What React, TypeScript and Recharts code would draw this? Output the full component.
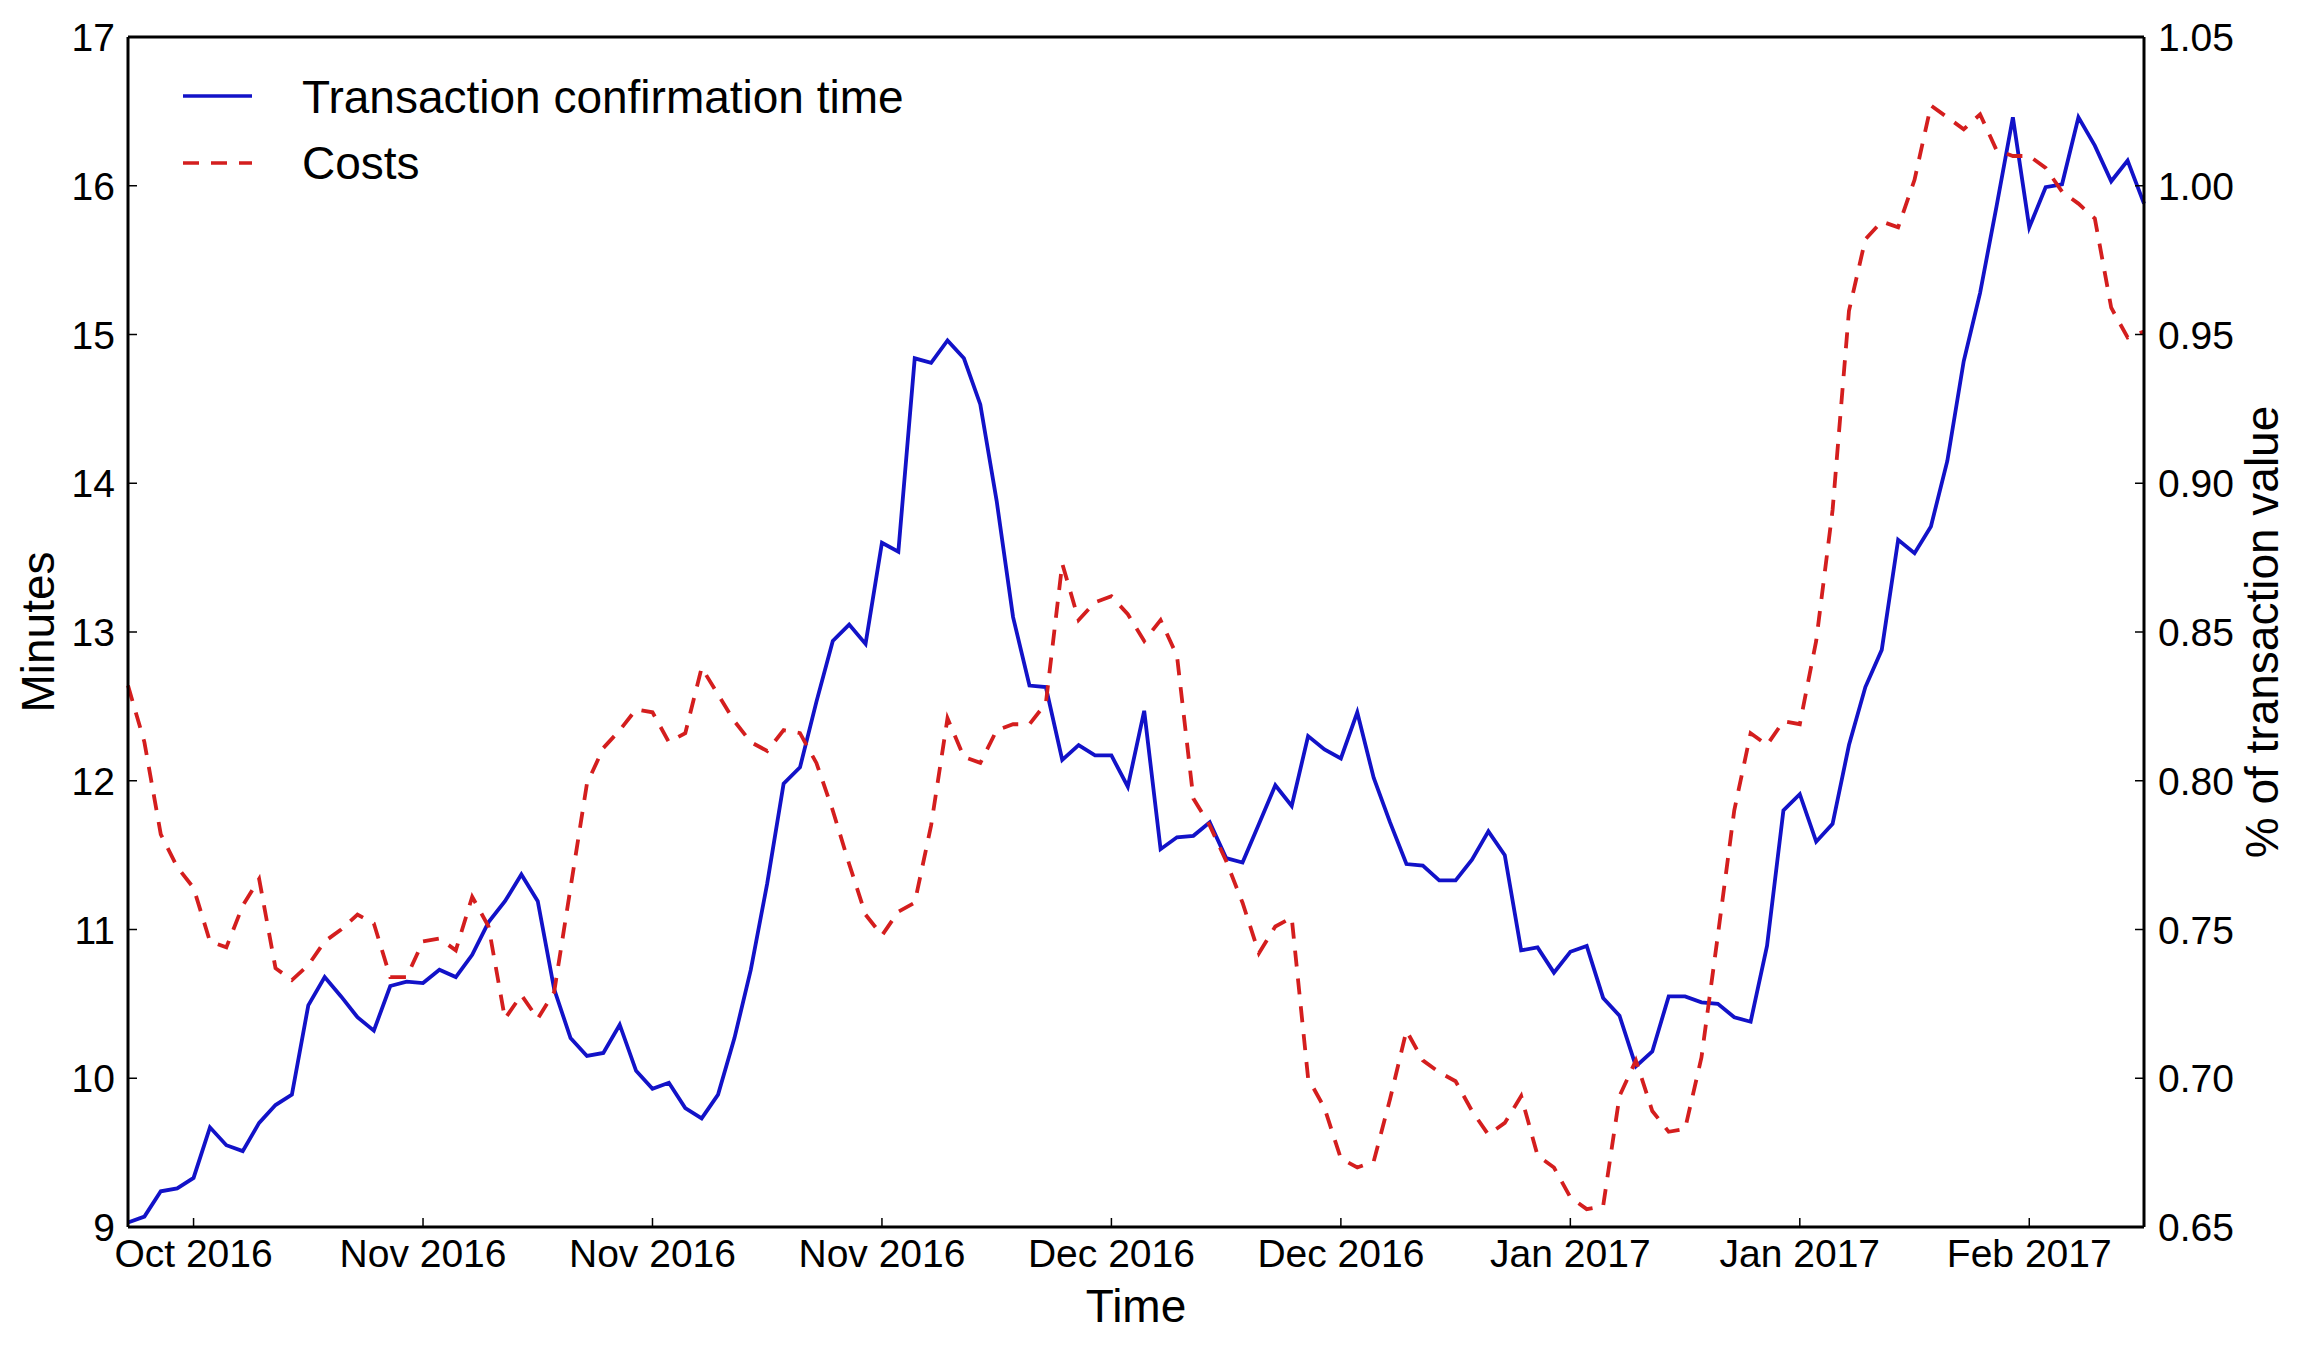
import React from 'react';
import { LineChart, Line, XAxis, YAxis } from 'recharts';

const minutes = [
  9.03, 9.07, 9.24, 9.26, 9.33, 9.67, 9.55, 9.51, 9.70, 9.82,
  9.89, 10.49, 10.68, 10.55, 10.41, 10.32, 10.62, 10.65, 10.64, 10.73,
  10.68, 10.83, 11.05, 11.19, 11.37, 11.19, 10.60, 10.27, 10.15, 10.17,
  10.36, 10.05, 9.93, 9.97, 9.80, 9.73, 9.89, 10.27, 10.73, 11.31,
  11.98, 12.09, 12.53, 12.94, 13.05, 12.92, 13.60, 13.54, 14.84, 14.81,
  14.96, 14.84, 14.53, 13.88, 13.10, 12.64, 12.63, 12.14, 12.24, 12.17,
  12.17, 11.96, 12.47, 11.54, 11.62, 11.63, 11.72, 11.48, 11.45, 11.71,
  11.97, 11.83, 12.30, 12.21, 12.15, 12.46, 12.02, 11.72, 11.44, 11.43,
  11.33, 11.33, 11.47, 11.66, 11.50, 10.86, 10.88, 10.71, 10.85, 10.89,
  10.54, 10.42, 10.08, 10.18, 10.55, 10.55, 10.51, 10.50, 10.41, 10.38,
  10.89, 11.80, 11.91, 11.59, 11.71, 12.24, 12.63, 12.88, 13.62, 13.53,
  13.71, 14.15, 14.82, 15.28, 15.86, 16.46, 15.72, 15.99, 16.01, 16.46,
  16.27, 16.03, 16.17, 15.88,
];

const costs = [
  0.832, 0.813, 0.782, 0.771, 0.764, 0.746, 0.744, 0.758, 0.767, 0.737,
  0.733, 0.738, 0.746, 0.750, 0.755, 0.752, 0.734, 0.734, 0.746, 0.747,
  0.743, 0.761, 0.751, 0.720, 0.728, 0.720, 0.729, 0.764, 0.799, 0.811,
  0.817, 0.824, 0.823, 0.813, 0.816, 0.838, 0.829, 0.820, 0.813, 0.810,
  0.817, 0.816, 0.806, 0.790, 0.772, 0.755, 0.748, 0.756, 0.759, 0.785,
  0.821, 0.808, 0.806, 0.817, 0.819, 0.819, 0.826, 0.873, 0.854, 0.860,
  0.862, 0.856, 0.847, 0.854, 0.842, 0.794, 0.785, 0.773, 0.759, 0.742,
  0.751, 0.754, 0.700, 0.690, 0.673, 0.670, 0.672, 0.693, 0.716, 0.706,
  0.702, 0.699, 0.689, 0.681, 0.685, 0.694, 0.674, 0.670, 0.660, 0.656,
  0.657, 0.694, 0.706, 0.689, 0.682, 0.683, 0.707, 0.748, 0.790, 0.816,
  0.812, 0.820, 0.819, 0.847, 0.891, 0.958, 0.982, 0.988, 0.986, 1.002,
  1.027, 1.023, 1.019, 1.024, 1.012, 1.010, 1.010, 1.006, 0.998, 0.994,
  0.989, 0.959, 0.949, 0.951,
];

const tickDays = [4, 18, 32, 46, 60, 74, 88, 102, 116];
const tickLabels = ['Oct 2016', 'Nov 2016', 'Nov 2016', 'Nov 2016', 'Dec 2016', 'Dec 2016', 'Jan 2017', 'Jan 2017', 'Feb 2017'];
const minuteTicks = [9, 10, 11, 12, 13, 14, 15, 16, 17];
const costTicks = [0.65, 0.7, 0.75, 0.8, 0.85, 0.9, 0.95, 1.0, 1.05];

const seriesNames = ['Transaction confirmation time', 'Costs'];

const data = minutes.map((m, i) => ({ day: i, t: m, c: costs[i] }));

const FONT = '"Liberation Sans", Arial, Helvetica, sans-serif';
const BLUE = '#1212c8';
const RED = '#d41e1e';
const TICK_FS = 39;
const LABEL_FS = 46;

const BottomTick = (props: any) => {
  const { x, y, payload } = props;
  const idx = tickDays.indexOf(payload.value);
  return (
    <g>
      <line x1={x} y1={y} x2={x} y2={y - 9} stroke="#000" strokeWidth={1.5} />
      <text x={x} y={y + 40} textAnchor="middle" fontSize={TICK_FS} fontFamily={FONT} fill="#000">
        {idx >= 0 ? tickLabels[idx] : ''}
      </text>
    </g>
  );
};

const LeftTick = (props: any) => {
  const { x, y, payload } = props;
  return (
    <g>
      <line x1={x} y1={y} x2={x + 9} y2={y} stroke="#000" strokeWidth={1.5} />
      <text x={x - 13} y={y + 14} textAnchor="end" fontSize={TICK_FS} fontFamily={FONT} fill="#000">
        {String(payload.value)}
      </text>
    </g>
  );
};

const RightTick = (props: any) => {
  const { x, y, payload } = props;
  return (
    <g>
      <line x1={x} y1={y} x2={x - 9} y2={y} stroke="#000" strokeWidth={1.5} />
      <text x={x + 14} y={y + 14} textAnchor="start" fontSize={TICK_FS} fontFamily={FONT} fill="#000">
        {Number(payload.value).toFixed(2)}
      </text>
    </g>
  );
};

const LegendBox = () => (
  <svg
    width={920}
    height={200}
    style={{ position: 'absolute', left: 0, top: 0, display: 'block', overflow: 'visible', pointerEvents: 'none' }}
  >
    <line x1={175} y1={88} x2={244} y2={88} stroke={BLUE} strokeWidth={3.5} />
    <text x={294} y={104.5} fontSize={LABEL_FS} fontFamily={FONT} fill="#000">{seriesNames[0]}</text>
    <line x1={175} y1={155} x2={244} y2={155} stroke={RED} strokeWidth={3.5} strokeDasharray="16 12" />
    <text x={294} y={171} fontSize={LABEL_FS} fontFamily={FONT} fill="#000">{seriesNames[1]}</text>
  </svg>
);

export default function App() {
  return (
    <div style={{ width: 2289, height: 1330, position: 'relative', background: '#fff' }}>
      <LineChart width={2289} height={1330} data={data} margin={{ top: 29, right: 0, bottom: 0, left: 0 }}>
        <XAxis
          xAxisId="bottom"
          dataKey="day"
          type="number"
          domain={[0, 123]}
          ticks={tickDays}
          interval={0}
          height={111}
          tickSize={0}
          tickMargin={0}
          tickLine={false}
          tick={BottomTick}
          axisLine={{ stroke: '#000', strokeWidth: 3 }}
          label={{ value: 'Time', position: 'insideBottom', offset: 16, fontSize: LABEL_FS, fontFamily: FONT, fill: '#000' }}
        />
        <XAxis
          xAxisId="top"
          orientation="top"
          dataKey="day"
          type="number"
          domain={[0, 123]}
          ticks={tickDays}
          interval={0}
          height={20}
          mirror
          tickSize={9}
          tick={false}
          tickLine={{ stroke: '#000', strokeWidth: 1.5 }}
          axisLine={{ stroke: '#000', strokeWidth: 3 }}
        />
        <YAxis
          yAxisId="left"
          orientation="left"
          type="number"
          domain={[9, 17]}
          ticks={minuteTicks}
          interval={0}
          width={120}
          tickSize={0}
          tickMargin={0}
          tickLine={false}
          tick={LeftTick}
          axisLine={{ stroke: '#000', strokeWidth: 3 }}
          label={{ value: 'Minutes', angle: -90, position: 'center', dx: -30, fontSize: LABEL_FS, fontFamily: FONT, fill: '#000' }}
        />
        <YAxis
          yAxisId="right"
          orientation="right"
          type="number"
          domain={[0.65, 1.05]}
          ticks={costTicks}
          interval={0}
          width={153}
          tickSize={0}
          tickMargin={0}
          tickLine={false}
          tick={RightTick}
          axisLine={{ stroke: '#000', strokeWidth: 3 }}
          label={{ value: '% of transaction value', angle: -90, position: 'center', dx: 41, fontSize: LABEL_FS, fontFamily: FONT, fill: '#000' }}
        />
        <Line
          xAxisId="bottom"
          yAxisId="left"
          type="linear"
          dataKey="t"
          name={seriesNames[0]}
          stroke={BLUE}
          strokeWidth={3.8}
          dot={false}
          activeDot={false}
          isAnimationActive={false}
        />
        <Line
          xAxisId="top"
          yAxisId="right"
          type="linear"
          dataKey="c"
          name={seriesNames[1]}
          stroke={RED}
          strokeWidth={3.8}
          strokeDasharray="16 12"
          dot={false}
          activeDot={false}
          isAnimationActive={false}
        />
      </LineChart>
      <LegendBox />
    </div>
  );
}
